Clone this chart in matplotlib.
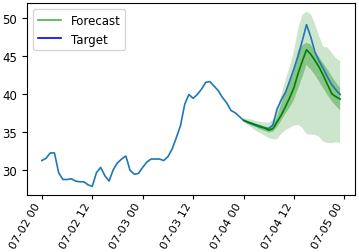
import matplotlib
matplotlib.use("Agg")
import matplotlib.pyplot as plt
import matplotlib.dates as mdates
from matplotlib.lines import Line2D
import pandas as pd

# hourly target, 07-02 00 .. 07-04 23
target = [31.2, 31.5, 32.2, 32.2, 29.6, 28.7, 28.7, 28.8, 28.5, 28.4,
          28.4, 28.0, 27.8, 29.6, 30.3, 29.2, 28.5, 30.0, 30.9, 31.4,
          31.8, 29.9, 29.4, 29.5, 30.3, 31.0, 31.4, 31.4, 31.4, 31.2,
          31.7, 32.7, 34.2, 35.8, 38.6, 39.9, 39.4, 39.9, 40.6, 41.5,
          41.6, 41.0, 40.4, 39.5, 38.8, 37.8, 37.5, 37.0,
          36.5, 36.2, 36.0, 35.8, 35.6, 35.5, 35.4, 35.9, 38.0, 39.2,
          40.2, 41.7, 43.3, 45.0, 47.0, 49.1, 47.5, 45.5, 44.3, 43.3,
          42.2, 41.2, 40.5, 39.9]

# forecast for the last 24 hours
median = [36.5, 36.3, 36.1, 35.9, 35.7, 35.5, 35.2, 35.4, 36.3, 37.2,
          38.3, 39.5, 40.8, 42.7, 44.3, 45.8, 45.2, 44.4, 43.5, 42.4,
          41.2, 40.0, 39.6, 39.3]
upper90 = [36.8, 36.7, 36.6, 36.4, 36.3, 36.2, 36.2, 36.5, 38.0, 39.8,
           41.8, 43.6, 45.6, 48.5, 50.4, 50.8, 50.5, 49.2, 47.6, 46.2,
           46.1, 45.4, 44.7, 44.3]
lower90 = [36.3, 35.9, 35.5, 35.1, 34.8, 34.5, 34.2, 34.0, 34.0, 34.7,
           35.2, 35.5, 35.8, 35.9, 35.5, 34.7, 34.6, 34.6, 34.3, 33.7,
           33.5, 33.5, 33.6, 33.5]
upper50 = [36.6, 36.4, 36.2, 36.0, 35.9, 35.7, 35.6, 35.9, 37.0, 38.7,
           40.3, 41.6, 43.2, 45.7, 46.4, 46.7, 46.5, 45.6, 44.8, 44.0,
           43.2, 42.3, 41.5, 40.8]
lower50 = [36.4, 36.1, 35.8, 35.6, 35.3, 35.1, 34.9, 35.0, 35.6, 36.5,
           37.4, 38.2, 39.2, 40.7, 42.2, 43.8, 43.2, 42.5, 41.6, 40.7,
           39.8, 39.0, 38.4, 37.8]

t_idx = pd.date_range("2021-07-02 00:00", periods=len(target), freq="h")
f_idx = t_idx[-len(median):]

fig, ax = plt.subplots(figsize=(3.59, 2.53), dpi=100)
fig.subplots_adjust(left=0.075, right=0.989, top=0.984, bottom=0.225)

ax.plot(t_idx, target, color="tab:blue", linewidth=1.2)
ax.fill_between(f_idx, lower90, upper90, facecolor="g", alpha=0.2, linewidth=0)
ax.fill_between(f_idx, lower50, upper50, facecolor="g", alpha=0.333, linewidth=0)
ax.plot(f_idx, median, color="g", linewidth=1.2)

ax.xaxis.set_major_locator(mdates.HourLocator(byhour=[0, 12]))
ax.xaxis.set_major_formatter(mdates.DateFormatter("%m-%d %H"))
ax.set_yticks([30, 35, 40, 45, 50])
ax.tick_params(labelsize=8.5)
ax.tick_params(axis="x", pad=1.0, length=3)
for lab in ax.get_xticklabels():
    lab.set_rotation(60)
    lab.set_ha("right")
    lab.set_fontsize(8.2)

handles = [Line2D([], [], color="#4caf50", linewidth=1.2),
           Line2D([], [], color="blue", linewidth=1.2)]
ax.legend(handles, ["Forecast", "Target"], loc="upper left", fontsize=8.5)

plt.savefig("out.png")
